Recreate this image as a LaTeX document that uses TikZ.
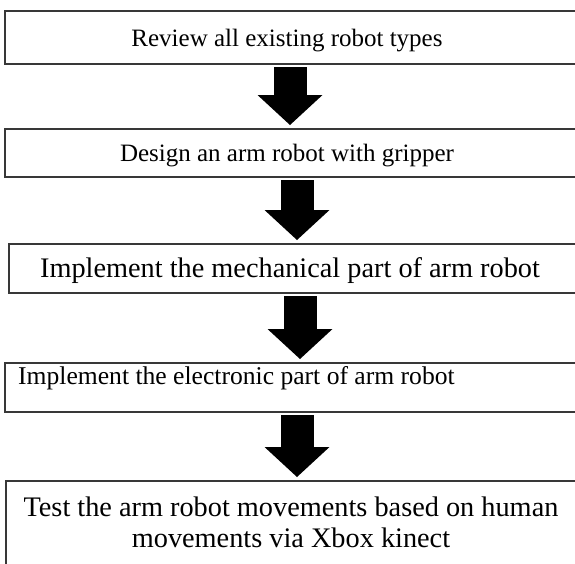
\documentclass[tikz,border=0pt]{standalone}
\usepackage{fontspec}
\setmainfont{Liberation Serif}
\usetikzlibrary{arrows.meta}
\begin{document}
\begin{tikzpicture}[x=1pt,y=-1pt,
  stepbox/.style={draw=black!78, line width=1.6pt, fill=white,
    minimum width=620pt, anchor=north west, inner sep=0pt, outer sep=0pt},
  smalltext/.style={font=\fontsize{25}{30}\selectfont, inner sep=0pt, anchor=base},
  largetext/.style={font=\fontsize{28.3}{31}\selectfont, inner sep=0pt, anchor=base},
  flow/.style={line width=33pt,
    -{Triangle[length=30pt,width=65pt,line width=0pt]},
    shorten <=3pt, shorten >=4pt}
]
\useasboundingbox (0,0) rectangle (575,563);
\clip (0,0) rectangle (575,563);

% process steps (the boxes run past the right edge)
\node[stepbox, minimum height=53pt] (b1) at (5,11) {};
\node[stepbox, minimum height=48pt] (b2) at (5,129) {};
\node[stepbox, minimum height=49pt] (b3) at (9,244) {};
\node[stepbox, minimum height=49pt] (b4) at (5,363) {};
\node[stepbox, minimum height=120pt] (b5) at (6,481) {};

% step texts
\node[smalltext] (t1) at (287,46) {Review all existing robot types};
\node[smalltext] (t2) at (287,161) {Design an arm robot with gripper};
\node[largetext] (t3) at (290,277) {Implement the mechanical part of arm robot};
\node[smalltext, font=\fontsize{25.6}{30}\selectfont, anchor=base west] (t4) at (18,384) {Implement the electronic part of arm robot};
% a two-line node takes its base from the last line
\node[largetext, align=center] (t5) at (291,547) {Test the arm robot movements based on human\\movements via Xbox kinect};

% arrow columns
\coordinate (c1) at (290,0);
\coordinate (c2) at (297,0);
\coordinate (c3) at (300,0);
\coordinate (c4) at (297,0);

% block arrows between the steps
\draw[flow] (b1.south -| c1) -- (b2.north -| c1);
\draw[flow] (b2.south -| c2) -- (b3.north -| c2);
\draw[flow] (b3.south -| c3) -- (b4.north -| c3);
\draw[flow] (b4.south -| c4) -- (b5.north -| c4);
\end{tikzpicture}
\end{document}
